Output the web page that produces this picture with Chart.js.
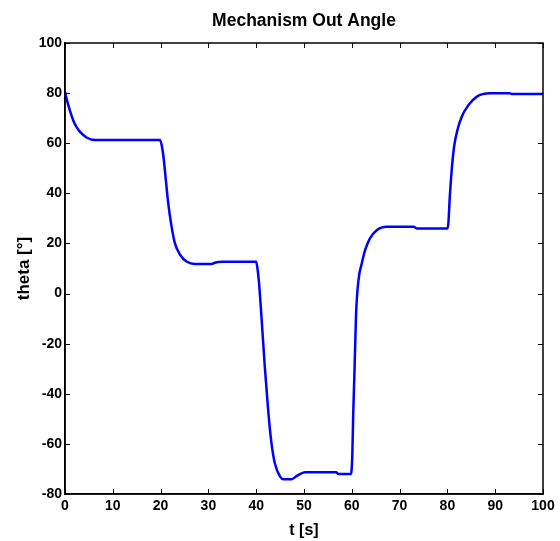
<!DOCTYPE html>
<html>
<head>
<meta charset="utf-8">
<script src="https://cdn.jsdelivr.net/npm/chart.js@4/dist/chart.umd.min.js"></script>
<style>
html,body{margin:0;padding:0;background:#fff;}
#wrap{width:560px;height:541px;position:relative;}
</style>
</head>
<body>
<div id="wrap"><canvas id="c" width="560" height="541"></canvas></div>
<script>
const titleText = "Mechanism Out Angle";
const xLabel = "t [s]";
const yLabel = "theta [°]";
const tValues = [0,0.5,1.0,1.7,2.4,3.1,4.5,6.3,19.9,20.3,20.6,21.1,21.6,22.3,23.0,24.1,25.5,27.2,30.7,31.5,32.8,40.0,40.3,40.6,41.1,41.8,42.5,43.2,43.9,45.0,45.7,47.4,48.5,50.2,56.7,57.2,59.8,60.1,60.3,60.5,60.7,60.9,61.4,62.1,62.8,63.8,65.2,67.3,72.9,73.6,80.0,80.2,80.5,80.9,81.4,82.1,83.0,84.4,86.1,88.9,93.1,93.5,100];
const thetaValues = [80.5,76.5,73.2,69.2,66.5,64.6,62.3,61.3,61.3,58.5,54.6,45.3,36.0,26.7,20.0,15.4,12.7,11.8,11.8,12.4,12.7,12.7,9.5,4.1,-9.2,-29.2,-46.5,-59.8,-67.7,-73.1,-74.1,-74.1,-72.8,-71.3,-71.3,-72.0,-72.0,-65,-47.8,-35,-21.2,-7.9,5.4,12.1,17.4,22.0,25.3,26.7,26.7,26.0,26.0,28,38.6,49.3,58.6,65.3,70.6,75.2,78.5,79.9,79.9,79.6,79.6];
const xTicks = [0,10,20,30,40,50,60,70,80,90,100];
const yTicks = [-80,-60,-40,-20,0,20,40,60,80,100];

const points = tValues.map((t, i) => ({x: t, y: thetaValues[i]}));
const FONT = "'Liberation Sans', Arial, sans-serif";

const boxTicks = {
  id: 'boxTicks',
  afterDraw(chart) {
    const ctx = chart.ctx;
    const a = chart.chartArea;
    const xs = chart.scales.x, ys = chart.scales.y;
    ctx.save();
    ctx.strokeStyle = '#000';
    ctx.lineWidth = 1;
    ctx.beginPath();
    const L = 5;
    xTicks.forEach(v => {
      const px = Math.round(xs.getPixelForValue(v)) + 0.5;
      ctx.moveTo(px, a.bottom); ctx.lineTo(px, a.bottom - L);
      ctx.moveTo(px, a.top); ctx.lineTo(px, a.top + L);
    });
    yTicks.forEach(v => {
      const py = Math.round(ys.getPixelForValue(v)) + 0.5;
      ctx.moveTo(a.left, py); ctx.lineTo(a.left + L, py);
      ctx.moveTo(a.right, py); ctx.lineTo(a.right - L, py);
    });
    ctx.stroke();
    ctx.lineWidth = 1.5;
    ctx.strokeRect(a.left, a.top, a.right - a.left, a.bottom - a.top);
    ctx.restore();
  }
};

new Chart(document.getElementById('c'), {
  type: 'scatter',
  data: {
    datasets: [{
      data: points,
      showLine: true,
      borderColor: '#0000ff',
      backgroundColor: '#0000ff',
      borderWidth: 2.5,
      pointRadius: 0,
      cubicInterpolationMode: 'monotone',
      clip: false
    }]
  },
  options: {
    responsive: false,
    animation: false,
    events: [],
    layout: {padding: {left: 0, right: 17, top: 0, bottom: 0}},
    plugins: {
      legend: {display: false},
      tooltip: {enabled: false},
      title: {
        display: true,
        fullSize: false,
        text: titleText,
        color: '#000',
        font: {family: FONT, size: 17.5, weight: 'bold'},
        padding: {top: 11, bottom: 11}
      }
    },
    scales: {
      x: {
        type: 'linear',
        min: 0, max: 100,
        afterFit(s) { s.height = 47; },
        afterBuildTicks(s) { s.ticks = xTicks.map(v => ({value: v})); },
        grid: {display: false, drawTicks: false},
        border: {display: true, color: '#000', width: 1.5},
        ticks: {
          color: '#000', padding: 4, maxRotation: 0, autoSkip: false,
          font: {family: FONT, size: 14, weight: 'bold'}
        },
        title: {
          display: true, text: xLabel, color: '#000',
          font: {family: FONT, size: 16, weight: 'bold'},
          padding: {top: 0, bottom: 1}
        }
      },
      y: {
        type: 'linear',
        min: -80, max: 100,
        afterFit(s) { s.width = 65; },
        afterBuildTicks(s) { s.ticks = yTicks.map(v => ({value: v})); },
        grid: {display: false, drawTicks: false},
        border: {display: true, color: '#000', width: 1.5},
        ticks: {
          color: '#000', padding: 3, autoSkip: false,
          font: {family: FONT, size: 14, weight: 'bold'}
        },
        title: {
          display: true, text: yLabel, color: '#000',
          font: {family: FONT, size: 17, weight: 'bold'},
          padding: {top: 14, bottom: 0}
        }
      }
    }
  },
  plugins: [boxTicks]
});
</script>
</body>
</html>
